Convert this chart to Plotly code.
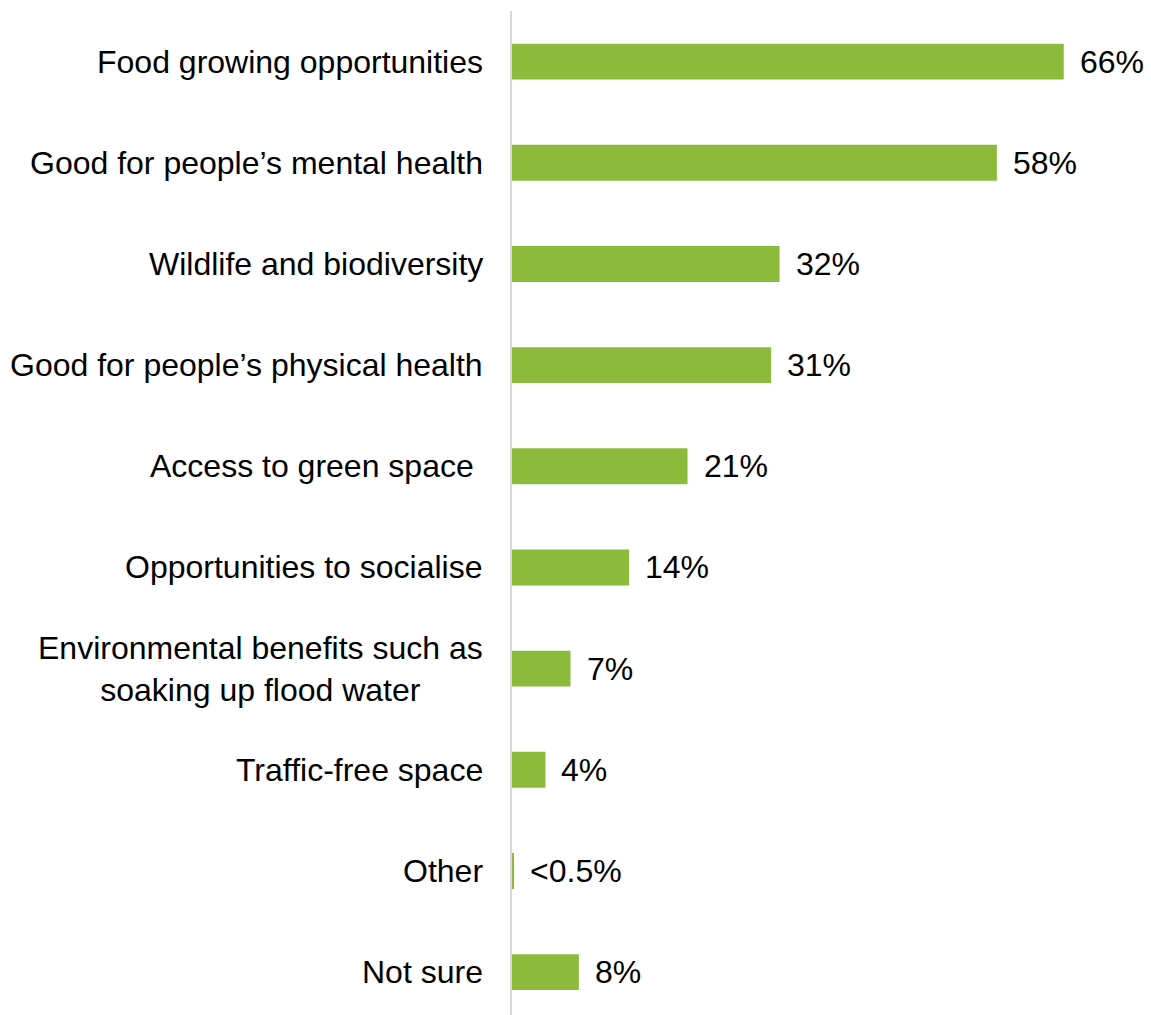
import plotly.graph_objects as go

# Survey responses: perceived benefits (percentage of respondents)
categories = [
    "Food growing opportunities",
    "Good for people\u2019s mental health",
    "Wildlife and biodiversity",
    "Good for people\u2019s physical health",
    "Access to green space\u00a0",
    "Opportunities to socialise",
    "Environmental benefits such as<br>soaking up flood water",
    "Traffic-free space",
    "Other",
    "Not sure",
]
values = [66, 58, 32, 31, 21, 14, 7, 4, 0.2, 8]
value_labels = ["66%", "58%", "32%", "31%", "21%", "14%", "7%", "4%", "<0.5%", "8%"]

BAR_GREEN = "#8CBB3C"
FONT = "Liberation Sans, Arial, sans-serif"
FONT_SIZE = 32

fig = go.Figure(
    go.Bar(
        x=values,
        y=categories,
        orientation="h",
        width=0.355,
        marker=dict(color=BAR_GREEN, line=dict(width=0)),
        hoverinfo="skip",
    )
)

annotations = []
# Category labels (centered lines, right-aligned block next to the axis)
for cat in categories:
    annotations.append(
        dict(
            x=0, xref="paper", y=cat, yref="y",
            text=cat, showarrow=False,
            xanchor="right", yanchor="middle", align="center",
            xshift=-27,
            font=dict(family=FONT, size=FONT_SIZE, color="#000000"),
        )
    )
# Value labels just past the end of each bar
for cat, v, lab in zip(categories, values, value_labels):
    annotations.append(
        dict(
            x=v, xref="x", y=cat, yref="y",
            text=lab, showarrow=False,
            xanchor="left", yanchor="middle",
            xshift=14,
            font=dict(family=FONT, size=FONT_SIZE, color="#000000"),
        )
    )

fig.update_layout(
    width=1151,
    height=1015,
    margin=dict(l=512, r=2, t=11, b=0),
    paper_bgcolor="white",
    plot_bgcolor="white",
    showlegend=False,
    annotations=annotations,
    xaxis=dict(
        range=[0, 76.2],
        showgrid=False,
        zeroline=False,
        showticklabels=False,
        showline=False,
        fixedrange=True,
    ),
    yaxis=dict(
        categoryorder="array",
        categoryarray=categories,
        range=[9.424, -0.5],
        showgrid=False,
        zeroline=False,
        showticklabels=False,
        showline=True,
        linecolor="#D9D9D9",
        linewidth=2,
        fixedrange=True,
    ),
)

fig.write_html("out.html")
